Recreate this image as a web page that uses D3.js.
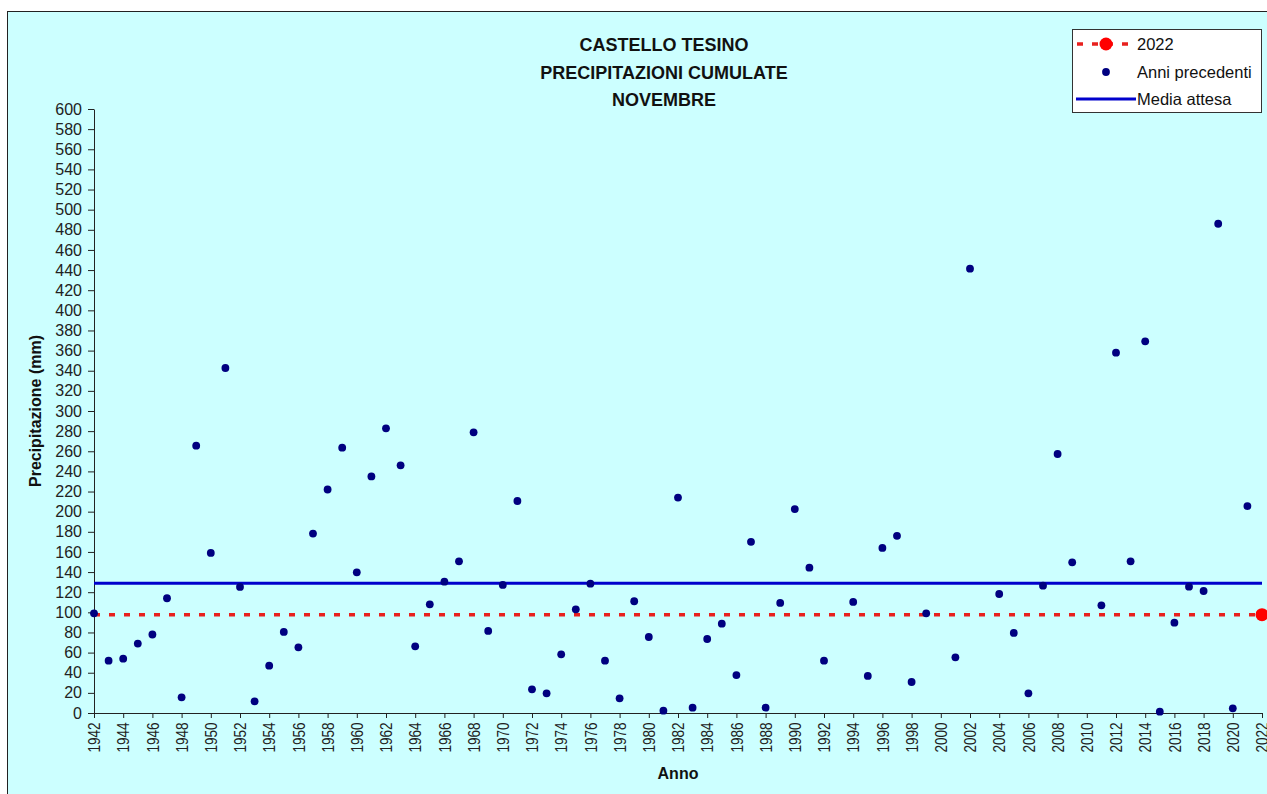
<!DOCTYPE html>
<html>
<head>
<meta charset="utf-8">
<script src="https://cdn.jsdelivr.net/npm/d3@7"></script>
<style>
  html, body { margin: 0; padding: 0; background: #ffffff; }
  svg { display: block; font-family: "Liberation Sans", Arial, sans-serif; }
</style>
</head>
<body>
<svg id="chart" width="1267" height="794"></svg>
<script>
// ---- data ----
const titleLines = ["CASTELLO TESINO", "PRECIPITAZIONI CUMULATE", "NOVEMBRE"];
const years = [1942,1943,1944,1945,1946,1947,1948,1949,1950,1951,1952,1953,1954,1955,1956,1957,1958,1959,1960,1961,
  1962,1963,1964,1965,1966,1967,1968,1969,1970,1971,1972,1973,1974,1975,1976,1977,1978,1979,1980,1981,
  1982,1983,1984,1985,1986,1987,1988,1989,1990,1991,1992,1994,1995,1996,1997,1998,1999,2001,
  2002,2004,2005,2006,2007,2008,2009,2011,2012,2013,2014,2015,2016,2017,2018,2019,2020,2021];
const values = [99,52,54,69,78,114,15.6,265.6,159,342.7,125.2,11.6,47,80.5,65.2,178.2,222,263.6,139.7,235,
  282.8,246,66.2,108,130.5,150.7,278.8,81.5,127.2,210.6,23.5,19.5,58.3,103,128.5,52,14.6,111,75.5,2.3,
  214,5.3,73.5,88.7,37.7,170,5.3,109.3,202.6,144.4,52,110.3,36.8,164,176,30.8,99,55.3,
  441.4,118.2,79.5,19.5,126.5,257.3,149.7,107,357.9,150.7,369.2,1.3,89.7,125.5,121.2,486,4.6,205.6];
const currentYear = [2022];
const currentValue = [97.7];
const mediaAttesa = [128.8];
const yTicks = [0,20,40,60,80,100,120,140,160,180,200,220,240,260,280,300,320,340,360,380,400,420,440,460,480,500,520,540,560,580,600];
const xTicks = [1942,1944,1946,1948,1950,1952,1954,1956,1958,1960,1962,1964,1966,1968,1970,1972,1974,1976,1978,1980,
  1982,1984,1986,1988,1990,1992,1994,1996,1998,2000,2002,2004,2006,2008,2010,2012,2014,2016,2018,2020,2022];
const legendLabels = ["2022", "Anni precedenti", "Media attesa"];

// ---- chart ----
const svg = d3.select("#chart");
const bg = "#CCFFFF";
svg.append("rect").attr("x", 7.5).attr("y", 11.5).attr("width", 1268).attr("height", 800)
  .attr("fill", bg).attr("stroke", "#222").attr("stroke-width", 1);

const x = d3.scaleLinear().domain([1942, 2022]).range([94, 1262]);
const y = d3.scaleLinear().domain([0, 600]).range([713, 109]);

// title
svg.append("g").selectAll("text").data(titleLines).join("text")
  .attr("x", 664).attr("y", (d, i) => 51 + i * 27.5)
  .attr("text-anchor", "middle").attr("font-weight", "bold").attr("font-size", 18)
  .attr("fill", "#111").text(d => d);

// axes
const yAxis = svg.append("g").attr("transform", `translate(${x(1942)},0)`)
  .call(d3.axisLeft(y).tickValues(yTicks).tickSize(6).tickSizeOuter(0).tickPadding(6));
yAxis.selectAll("text").attr("font-size", 16).attr("fill", "#222").attr("font-family", "Liberation Sans, Arial, sans-serif");
yAxis.selectAll("line, path").attr("stroke", "#222");

const xAxis = svg.append("g").attr("transform", `translate(0,${y(0)})`)
  .call(d3.axisBottom(x).tickValues(xTicks).tickFormat(d3.format("d")).tickSize(5).tickSizeOuter(0));
xAxis.selectAll("line, path").attr("stroke", "#222");
xAxis.selectAll("text")
  .attr("transform", "rotate(-90) scale(0.85,1)")
  .attr("x", -11).attr("y", 0).attr("dy", "0.35em")
  .attr("text-anchor", "end")
  .attr("font-size", 16).attr("fill", "#222").attr("font-family", "Liberation Sans, Arial, sans-serif");

// axis titles
svg.append("text").attr("x", 678).attr("y", 779).attr("text-anchor", "middle")
  .attr("font-weight", "bold").attr("font-size", 16).attr("fill", "#111").text("Anno");
svg.append("text").attr("transform", `translate(41,${y(300)}) rotate(-90)`).attr("text-anchor", "middle")
  .attr("font-weight", "bold").attr("font-size", 16).attr("fill", "#111").text("Precipitazione (mm)");

// mean line
svg.append("g").selectAll("line").data(mediaAttesa).join("line")
  .attr("x1", x(1942)).attr("x2", x(2022)).attr("y1", d => y(d)).attr("y2", d => y(d))
  .attr("stroke", "#0000CC").attr("stroke-width", 3);

// 2022 dashed line
svg.append("g").selectAll("line").data(currentValue).join("line")
  .attr("x1", x(1942)).attr("x2", x(2022)).attr("y1", d => y(d)).attr("y2", d => y(d))
  .attr("stroke", "#E8201E").attr("stroke-width", 3.5).attr("stroke-dasharray", "6,9");

// previous years dots
const pts = years.map((yr, i) => ({ yr, v: values[i] }));
svg.append("g").selectAll("circle").data(pts).join("circle")
  .attr("cx", d => x(d.yr)).attr("cy", d => y(d.v)).attr("r", 3.9).attr("fill", "#000080");

// 2022 point
svg.append("g").selectAll("circle").data(currentYear).join("circle")
  .attr("cx", d => x(d)).attr("cy", (d, i) => y(currentValue[i])).attr("r", 6.5).attr("fill", "#FF0000");

// legend
const lg = svg.append("g");
lg.append("rect").attr("x", 1072.5).attr("y", 29.5).attr("width", 189).attr("height", 83)
  .attr("fill", "#ffffff").attr("stroke", "#333").attr("stroke-width", 1);
const ly = [44, 72, 99];
lg.append("line").attr("x1", 1077).attr("x2", 1136).attr("y1", ly[0]).attr("y2", ly[0])
  .attr("stroke", "#E8201E").attr("stroke-width", 3.5).attr("stroke-dasharray", "6,9");
lg.append("circle").attr("cx", 1106).attr("cy", ly[0]).attr("r", 6.5).attr("fill", "#FF0000");
lg.append("circle").attr("cx", 1106).attr("cy", ly[1]).attr("r", 3.9).attr("fill", "#000080");
lg.append("line").attr("x1", 1076).attr("x2", 1136).attr("y1", ly[2]).attr("y2", ly[2])
  .attr("stroke", "#0000CC").attr("stroke-width", 3);
lg.selectAll("text").data(legendLabels).join("text")
  .attr("x", 1137).attr("y", (d, i) => ly[i] + 5.5)
  .attr("font-size", 16.5).attr("fill", "#111").text(d => d);
</script>
</body>
</html>
